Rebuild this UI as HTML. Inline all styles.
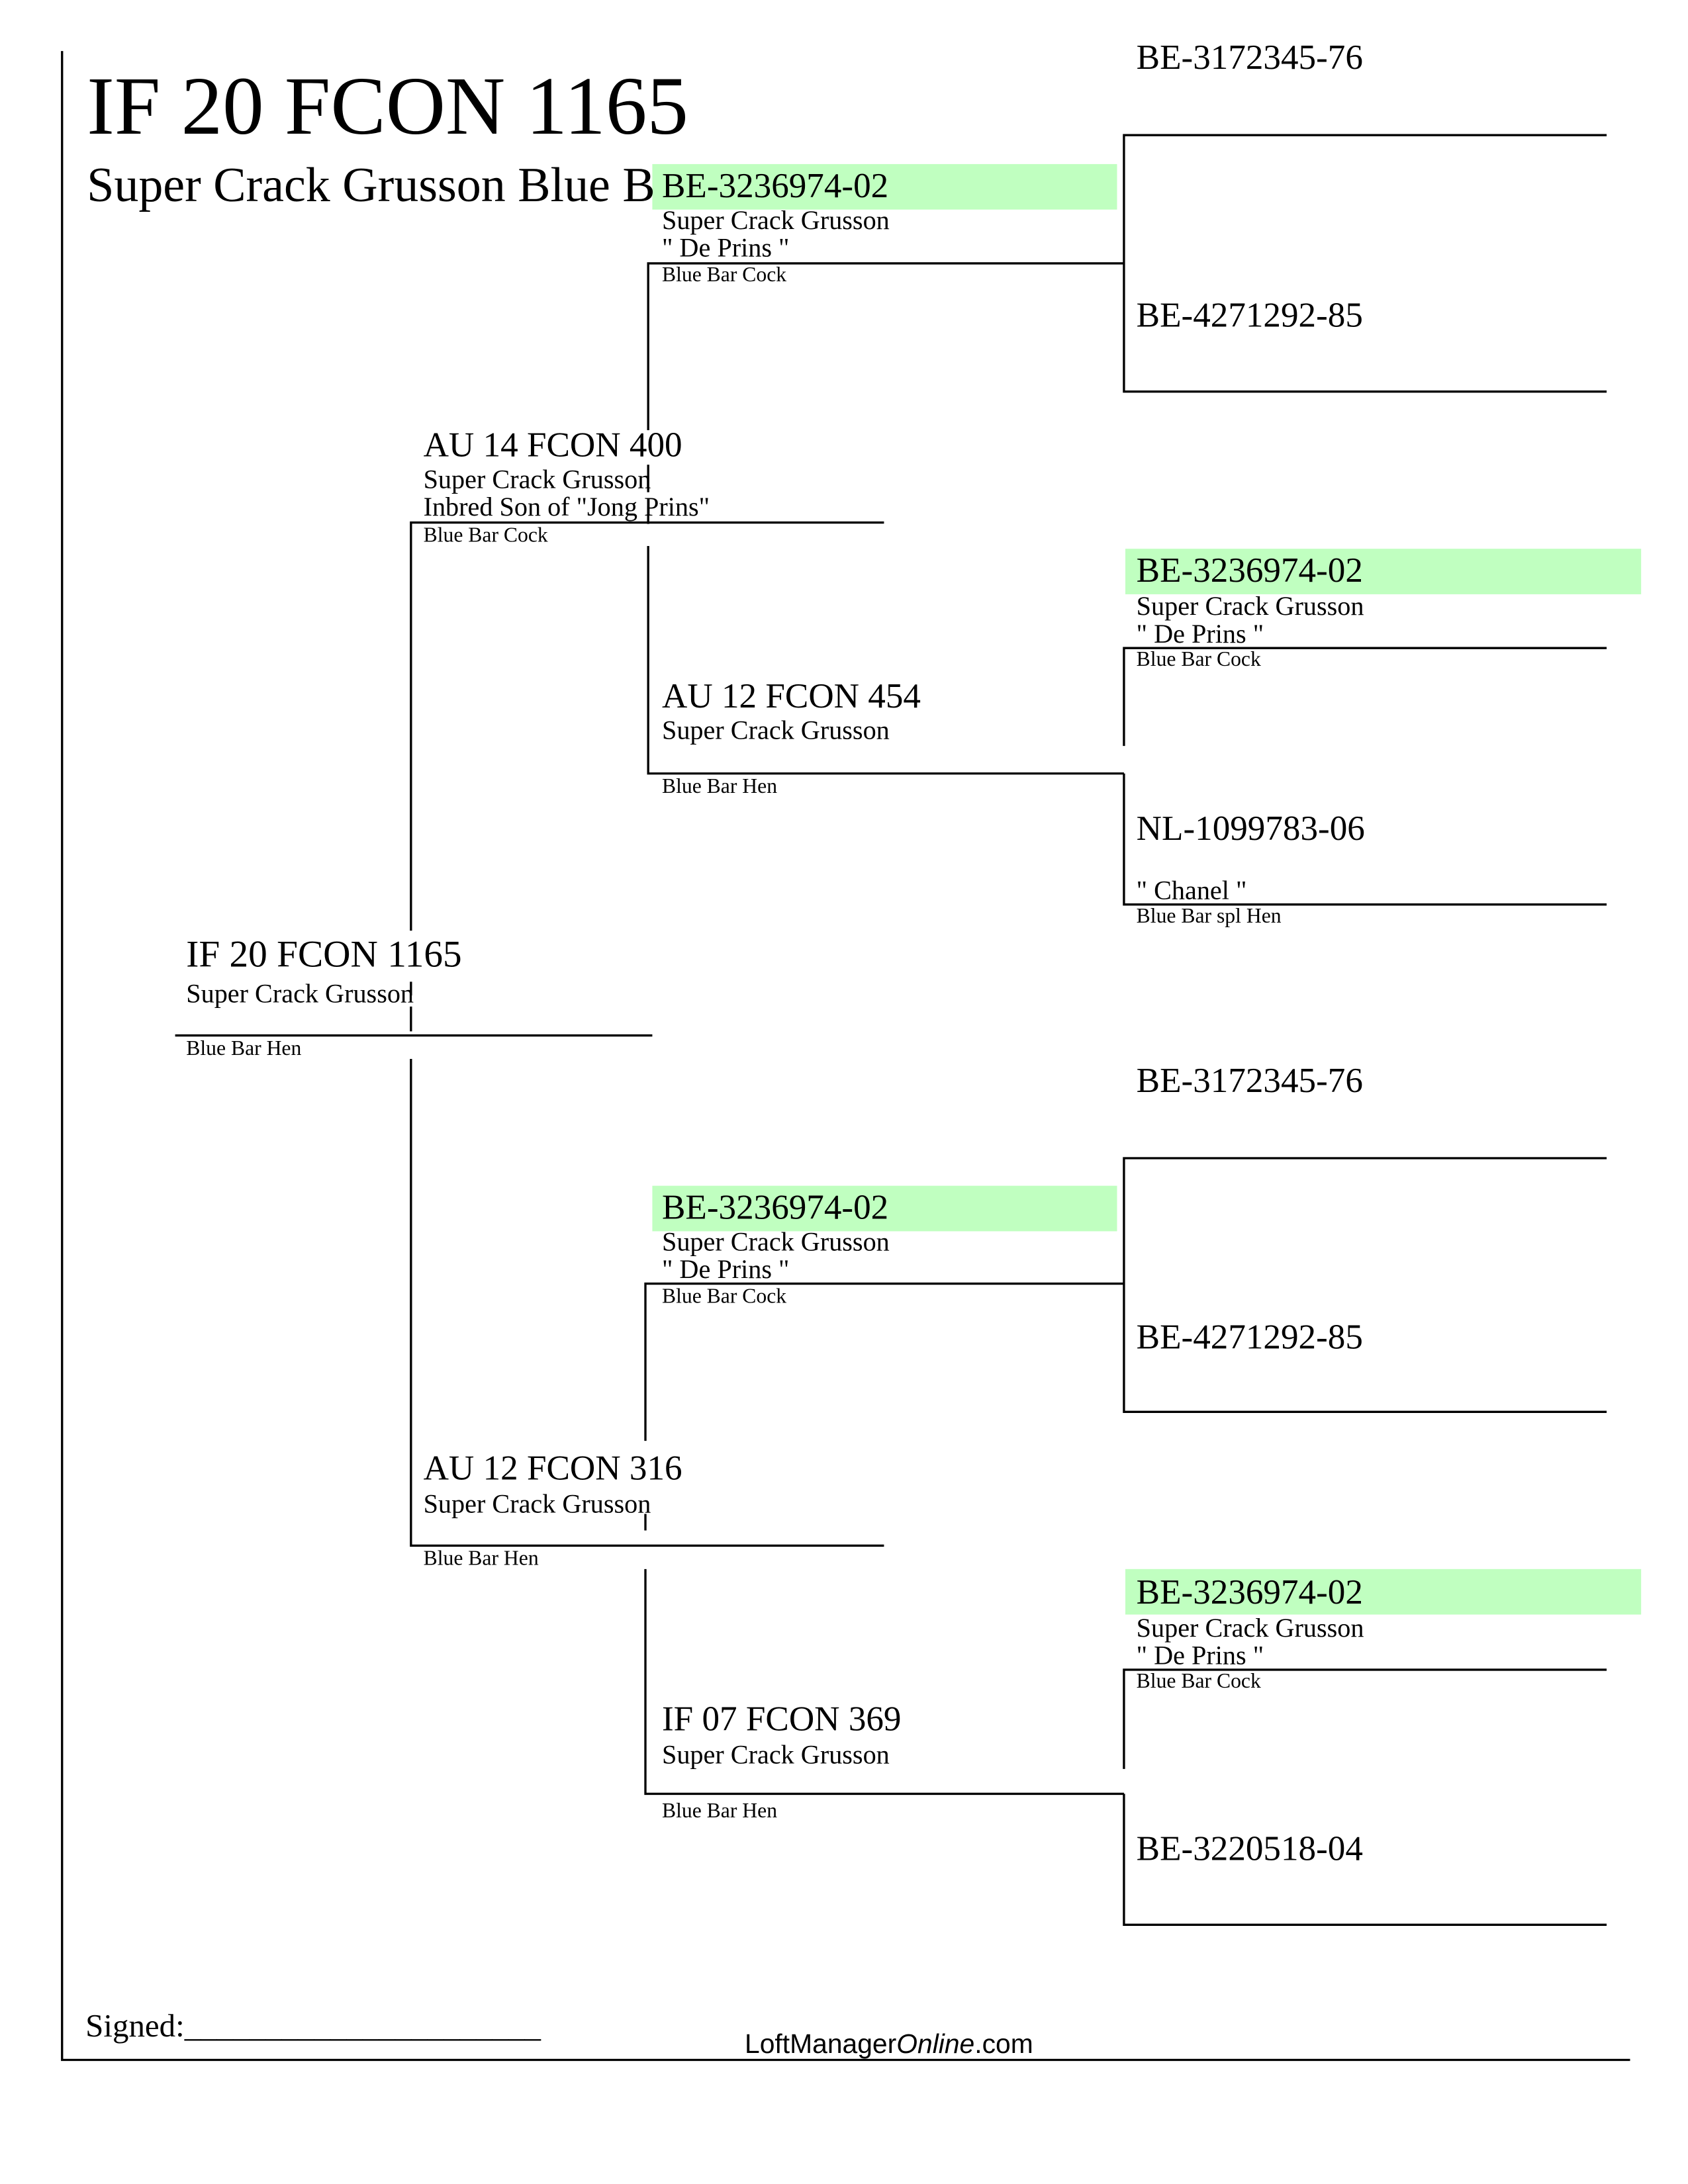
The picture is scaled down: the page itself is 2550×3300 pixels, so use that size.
<!DOCTYPE html>
<html><head><meta charset="utf-8"><style>
html,body{margin:0;padding:0;background:#fff;width:2550px;height:3300px;overflow:hidden}
svg{display:block}
text{font-family:"Liberation Serif",serif;fill:#000}
.id{font-size:25.5px}.s{font-size:19.3px}.t{font-size:15.2px}
</style></head><body>
<svg width="2550" height="3300" viewBox="0 0 1224 1584" xmlns="http://www.w3.org/2000/svg">
<g fill="#c0ffc0">
<rect x="473" y="119" width="337" height="33"/>
<rect x="816" y="398" width="374" height="33"/>
<rect x="473" y="860" width="337" height="33"/>
<rect x="816" y="1138" width="374" height="33"/>
</g>
<g stroke="#000" stroke-width="1.6" fill="none">
<path d="M45 37V1494H1182"/>
<path d="M1165 98H815V284H1165"/>
<path d="M470 312V191H815"/>
<path d="M470 337V357M470 367V380"/>
<path d="M298 675V379H641"/>
<path d="M470 396V561H815"/>
<path d="M815 541V470H1165"/>
<path d="M815 561V656H1165"/>
<path d="M127 751H473"/>
<path d="M298 712V722M298 730V748"/>
<path d="M298 768V1121H641"/>
<path d="M1165 840H815V1024H1165"/>
<path d="M468 1045V931H815"/>
<path d="M468 1098V1110"/>
<path d="M468 1138V1301H815"/>
<path d="M815 1283V1211H1165"/>
<path d="M815 1301V1396H1165"/>
</g>
<text x="63" y="97" style="font-size:60px">IF 20 FCON 1165</text>
<text x="63" y="146" style="font-size:35.5px">Super Crack Grusson Blue B</text>

<text class="id" x="824" y="50">BE-3172345-76</text>
<text class="id" x="824" y="237">BE-4271292-85</text>

<text class="id" x="480" y="143">BE-3236974-02</text>
<text class="s" x="480" y="166">Super Crack Grusson</text>
<text class="s" x="480" y="186">" De Prins "</text>
<text class="t" x="480" y="204">Blue Bar Cock</text>

<text class="id" x="307" y="331">AU 14 FCON 400</text>
<text class="s" x="307" y="354">Super Crack Grusson</text>
<text class="s" x="307" y="374">Inbred Son of "Jong Prins"</text>
<text class="t" x="307" y="393">Blue Bar Cock</text>

<text class="id" x="824" y="422">BE-3236974-02</text>
<text class="s" x="824" y="446">Super Crack Grusson</text>
<text class="s" x="824" y="466">" De Prins "</text>
<text class="t" x="824" y="483">Blue Bar Cock</text>

<text class="id" x="480" y="513">AU 12 FCON 454</text>
<text class="s" x="480" y="536">Super Crack Grusson</text>
<text class="t" x="480" y="575">Blue Bar Hen</text>

<text class="id" x="824" y="609">NL-1099783-06</text>
<text class="s" x="824" y="652">" Chanel "</text>
<text class="t" x="824" y="669">Blue Bar spl Hen</text>

<text x="135" y="701" style="font-size:27.5px">IF 20 FCON 1165</text>
<text class="s" x="135" y="727">Super Crack Grusson</text>
<text class="t" x="135" y="765">Blue Bar Hen</text>

<text class="id" x="824" y="792">BE-3172345-76</text>
<text class="id" x="480" y="884">BE-3236974-02</text>
<text class="s" x="480" y="907">Super Crack Grusson</text>
<text class="s" x="480" y="927">" De Prins "</text>
<text class="t" x="480" y="945">Blue Bar Cock</text>
<text class="id" x="824" y="978">BE-4271292-85</text>

<text class="id" x="307" y="1073">AU 12 FCON 316</text>
<text class="s" x="307" y="1097">Super Crack Grusson</text>
<text class="t" x="307" y="1135">Blue Bar Hen</text>

<text class="id" x="824" y="1163">BE-3236974-02</text>
<text class="s" x="824" y="1187">Super Crack Grusson</text>
<text class="s" x="824" y="1207">" De Prins "</text>
<text class="t" x="824" y="1224">Blue Bar Cock</text>

<text class="id" x="480" y="1255">IF 07 FCON 369</text>
<text class="s" x="480" y="1279">Super Crack Grusson</text>
<text class="t" x="480" y="1318">Blue Bar Hen</text>

<text class="id" x="824" y="1349">BE-3220518-04</text>

<text x="62" y="1477" style="font-size:23.5px">Signed:______________________</text>
<text x="540" y="1489" style="font-size:19.6px;font-family:'Liberation Sans',sans-serif">LoftManager<tspan font-style="italic">Online</tspan>.com</text>
</svg>
</body></html>
